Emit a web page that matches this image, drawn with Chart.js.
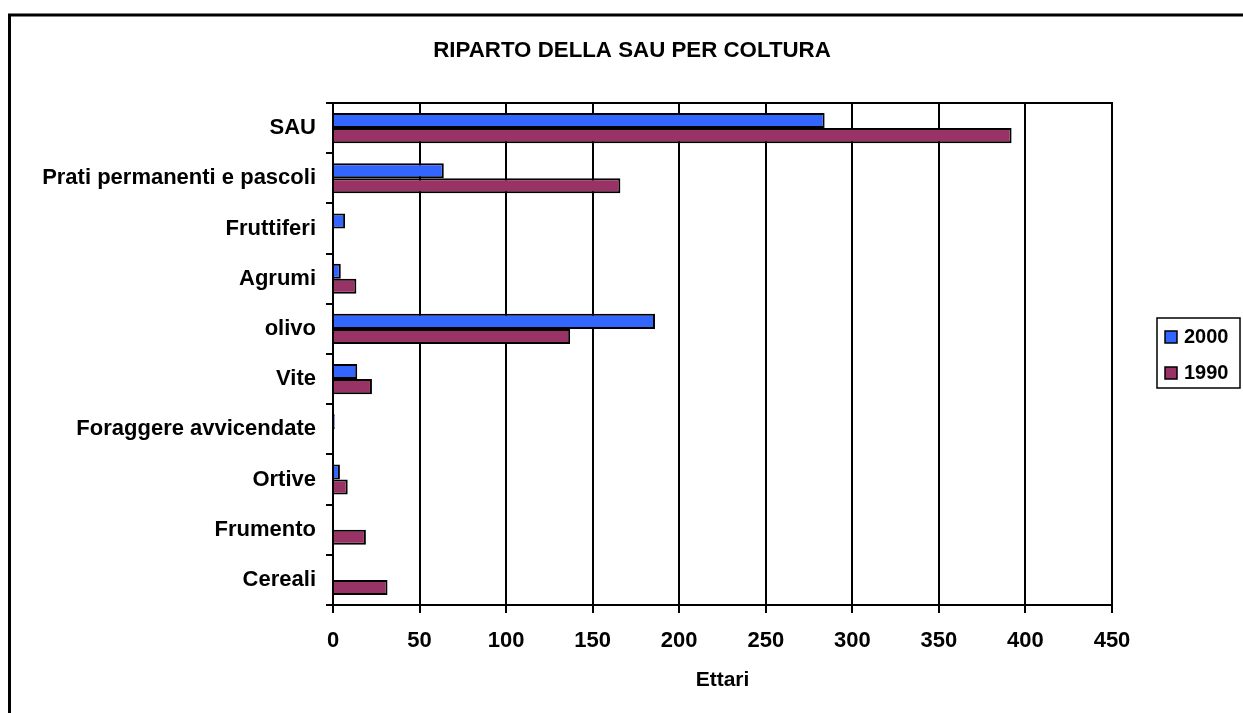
<!DOCTYPE html>
<html>
<head>
<meta charset="utf-8">
<script src="https://cdn.jsdelivr.net/npm/chart.js@4/dist/chart.umd.min.js"></script>
<style>
  html, body { margin: 0; padding: 0; background: #fff; }
  #wrap { position: relative; width: 1243px; height: 713px; overflow: hidden; }
</style>
</head>
<body>
<div id="wrap"><canvas id="sau" width="1243" height="713"></canvas></div>
<script>
// categories, top to bottom
var colture = ['SAU', 'Prati permanenti e pascoli', 'Fruttiferi', 'Agrumi', 'olivo', 'Vite',
  'Foraggere avvicendate', 'Ortive', 'Frumento', 'Cereali'];
// ettari
var anno2000 = [284, 64, 7, 4.5, 186, 14, 1, 4, 0, 0];
var anno1990 = [392, 166, 0, 13.5, 137, 22.5, 0, 8.5, 19, 31.5];
var xTicks = [0, 50, 100, 150, 200, 250, 300, 350, 400, 450];
var titolo = 'RIPARTO DELLA SAU PER COLTURA';
var titoloX = 'Ettari';

var FONT = '"Liberation Sans", Arial, sans-serif';

// frame, title, axis title, plot box and legend box
var cornice = {
  id: 'cornice',
  afterDraw: function (chart) {
    var ctx = chart.ctx, a = chart.chartArea;
    ctx.save();
    ctx.strokeStyle = '#000';
    ctx.lineWidth = 3;
    ctx.beginPath();
    ctx.moveTo(9.5, 713);
    ctx.lineTo(9.5, 15);
    ctx.lineTo(1243, 15);
    ctx.stroke();

    ctx.lineWidth = 2;
    ctx.strokeRect(a.left, a.top, a.right - a.left, a.bottom - a.top);

    ctx.fillStyle = '#000';
    ctx.textAlign = 'center';
    ctx.textBaseline = 'alphabetic';
    ctx.font = 'bold 22.3px ' + FONT;
    ctx.fillText(titolo, 632, 57);
    ctx.font = 'bold 21px ' + FONT;
    ctx.fillText(titoloX, (a.left + a.right) / 2, 686);

    // legend
    ctx.textAlign = 'left';
    ctx.lineWidth = 1.5;
    ctx.strokeRect(1157, 318, 83, 70);
    var items = chart.data.datasets;
    ctx.font = 'bold 20px ' + FONT;
    for (var i = 0; i < items.length; i++) {
      var base = 343 + i * 36;
      ctx.fillStyle = items[i].backgroundColor;
      ctx.fillRect(1165, base - 12, 12, 12);
      ctx.lineWidth = 1.5;
      ctx.strokeRect(1165, base - 12, 12, 12);
      ctx.fillStyle = '#000';
      ctx.fillText(items[i].label, 1184, base);
    }
    ctx.restore();
  }
};

new Chart(document.getElementById('sau'), {
  type: 'bar',
  data: {
    labels: colture,
    datasets: [
      { label: '2000', data: anno2000, backgroundColor: '#3366FF', borderColor: '#000', borderWidth: 2 },
      { label: '1990', data: anno1990, backgroundColor: '#993366', borderColor: '#000', borderWidth: 2 }
    ]
  },
  options: {
    indexAxis: 'y',
    responsive: false,
    animation: false,
    devicePixelRatio: 1,
    categoryPercentage: 0.6,
    barPercentage: 1,
    layout: { padding: { left: 0, top: 103, right: 131, bottom: 0 } },
    plugins: {
      legend: { display: false },
      tooltip: { enabled: false },
      title: { display: false }
    },
    scales: {
      x: {
        min: 0, max: 450,
        afterBuildTicks: function (s) { s.ticks = xTicks.map(function (v) { return { value: v }; }); },
        afterFit: function (s) { s.height = 108; },
        grid: { color: '#000', lineWidth: 2, tickLength: 8, drawOnChartArea: true },
        border: { color: '#000', width: 2 },
        ticks: { color: '#000', font: { family: FONT, size: 22, weight: 'bold' }, padding: 15, maxRotation: 0 }
      },
      y: {
        afterFit: function (s) { s.width = 333; },
        grid: { offset: true, drawOnChartArea: false, color: '#000', lineWidth: 2, tickLength: 7 },
        border: { color: '#000', width: 2 },
        ticks: { color: '#000', font: { family: FONT, size: 22, weight: 'bold' }, padding: 10 }
      }
    }
  },
  plugins: [cornice]
});
</script>
</body>
</html>
